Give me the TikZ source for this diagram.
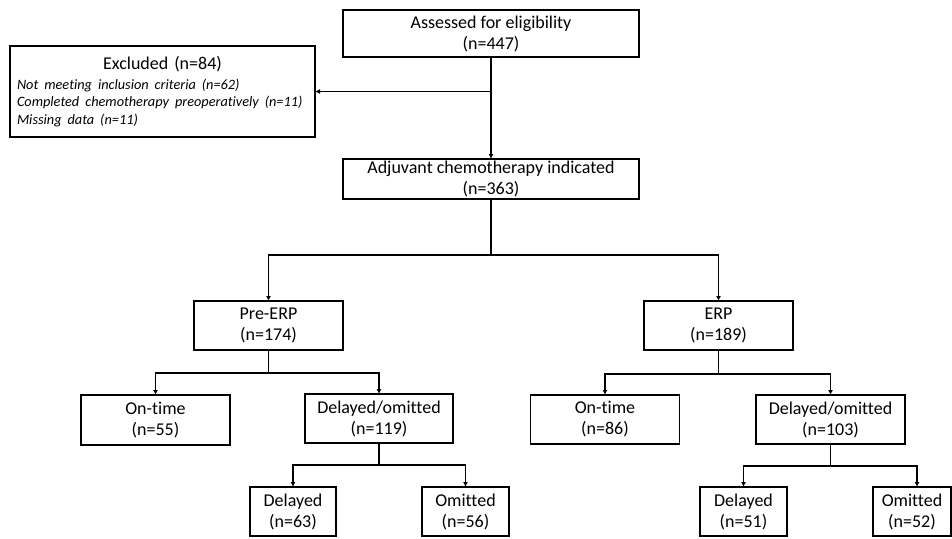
\documentclass[tikz,border=0pt]{standalone}
\usepackage{fontspec}
\setmainfont{Carlito}[Ligatures=NoCommon]
\usepackage{tikz}
\usetikzlibrary{arrows,arrows.meta,positioning,calc}
\tikzset{
  box/.style={draw, line width=1.2pt, fill=white, text centered, align=center, inner sep=1pt,
    minimum width=149pt, minimum height=49pt, font=\fontsize{18}{21}\selectfont},
  wide/.style={box, minimum width=296pt},
  leaf/.style={box, minimum width=86pt},
  link/.style={line width=1.8pt, ->, >={Latex[length=5pt,width=5pt]}},
  plain/.style={line width=1.8pt}
}
\begin{document}
\begin{tikzpicture}[x=1pt,y=-1pt,outer sep=0pt]
    \useasboundingbox (0,0) rectangle (952,538);
    \node (assess) [wide,minimum height=47pt] at (491,33.5) {Assessed for eligibility\\(n=447)};
    \node (excl) [draw,line width=1.2pt,text width=291pt,inner xsep=7pt,inner ysep=2pt,minimum height=91pt,
      font=\fontsize{18}{21}\selectfont] at (162.5,91.5)
    {\centering Excluded (n=84)\par\vskip2pt
     \raggedright\fontsize{14.3}{17.5}\selectfont\itshape Not meeting inclusion criteria (n=62)\par
     Completed chemotherapy preoperatively (n=11)\par
     Missing data (n=11)\par};
    \node (adjuv) [wide,minimum height=40pt] at (491,179) {Adjuvant chemotherapy indicated\\(n=363)};
    \node (pre) [box] at (268.5,325.5) {Pre-ERP\\(n=174)};
    \node (erp) [box] at (718.5,325.5) {ERP\\(n=189)};
    \node (ontimeA) [box,minimum height=50pt] at (155.5,420) {On-time\\(n=55)};
    \node (delomA) [box,minimum width=148pt] at (379,418.5) {Delayed/omitted\\(n=119)};
    \node (ontimeB) [box] at (605,419.5) {On-time\\(n=86)};
    \node (delomB) [box] at (830.5,419.5) {Delayed/omitted\\(n=103)};
    \node (delA) [leaf] at (293,511.5) {Delayed\\(n=63)};
    \node (omA) [leaf,minimum width=87pt] at (465.5,511.5) {Omitted\\(n=56)};
    \node (delB) [leaf,minimum width=87pt] at (743.5,511.5) {Delayed\\(n=51)};
    \node (omB) [leaf,minimum width=78pt] at (912,511.5) {Omitted\\(n=52)};
    % junctions
    \coordinate (jExcl) at (assess.south |- excl.east);
    \coordinate (jArm) at ($(adjuv.south)+(0,56)$);
    \coordinate (jPre) at ($(pre.south)+(0,23)$);
    \coordinate (jErp) at ($(erp.south)+(0,24)$);
    \coordinate (jDelA) at ($(delomA.south)+(0,22)$);
    \coordinate (jDelB) at ($(delomB.south)+(0,22)$);
    \draw [link] (assess.south) -- (adjuv.north);
    \draw [link] (jExcl) -- (excl.east);
    \draw [plain] (adjuv.south) -- (jArm);
    \draw [link] (jArm) -| (pre.north);
    \draw [link] (jArm) -| (erp.north);
    \draw [plain] (pre.south) -- (jPre);
    \draw [link] (jPre) -| (ontimeA.north);
    \draw [link] (jPre) -| (delomA.north);
    \draw [plain] (erp.south) -- (jErp);
    \draw [link] (jErp) -| (ontimeB.north);
    \draw [link] (jErp) -| (delomB.north);
    \draw [plain] (delomA.south) -- (jDelA);
    \draw [link] (jDelA) -| (delA.north);
    \draw [link] (jDelA) -| (omA.north);
    \draw [plain] (delomB.south) -- (jDelB);
    \draw [link] (jDelB) -| (delB.north);
    \draw [link] (jDelB) -| ([xshift=5pt]omB.north);
\end{tikzpicture}
\end{document}
